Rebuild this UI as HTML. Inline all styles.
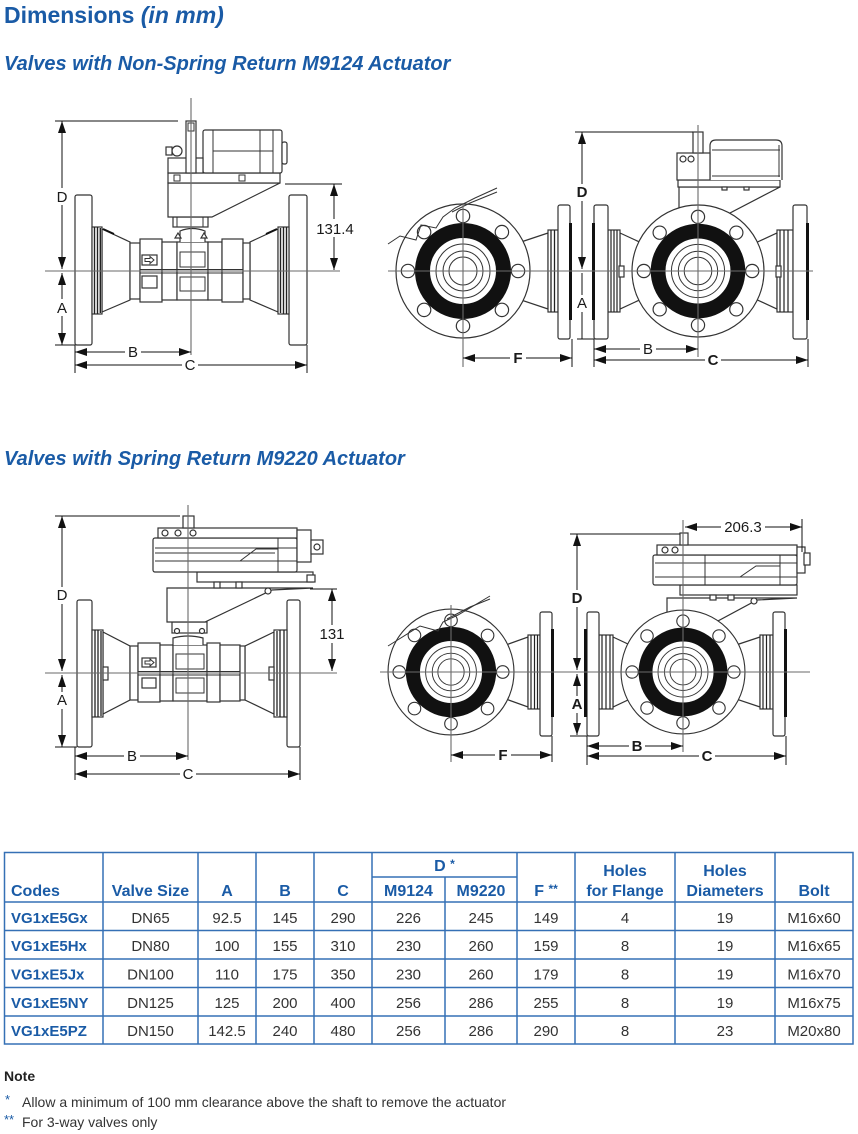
<!DOCTYPE html>
<html><head><meta charset="utf-8"><title>Dimensions</title>
<style>
html,body{margin:0;padding:0;background:#fff}
svg{display:block}
text{font-family:"Liberation Sans",Arial,sans-serif}
.o{stroke:#333;stroke-width:1.2;fill:#fff}
.ln{stroke:#333;stroke-width:1;fill:none}
.cl{stroke:#6a6a6a;stroke-width:1.1;fill:none}
.dm{stroke:#111;stroke-width:1;fill:none}
.bk{fill:#111;stroke:none}
.wb{fill:#fff;stroke:none}
.lb{font-size:15px;fill:#1a1a1a;text-anchor:middle}
.lbb{font-size:15px;fill:#1a1a1a;text-anchor:middle;font-weight:bold}
.th{font-size:16px;font-weight:bold;fill:#1a5ba6}
.thc{font-size:16px;font-weight:bold;fill:#1a5ba6;text-anchor:middle}
.td{font-size:15px;fill:#333;text-anchor:middle}
.tc{font-size:15px;font-weight:bold;fill:#1a5ba6}
</style></head><body>
<svg width="858" height="1134" viewBox="0 0 858 1134" xmlns="http://www.w3.org/2000/svg">
<defs>
<marker id="ar" viewBox="0 0 12 8" refX="12" refY="4" markerWidth="12" markerHeight="8" markerUnits="userSpaceOnUse" orient="auto-start-reverse"><path d="M0,0L12,4L0,8z" fill="#111"/></marker>
<g id="face">
 <circle r="67" class="o"/>
 <g class="o">
  <circle cx="55" cy="0" r="6.7"/>
  <circle cx="38.9" cy="-38.9" r="6.7"/>
  <circle cx="0" cy="-55" r="6.7"/>
  <circle cx="-38.9" cy="-38.9" r="6.7"/>
  <circle cx="-55" cy="0" r="6.7"/>
  <circle cx="-38.9" cy="38.9" r="6.7"/>
  <circle cx="0" cy="55" r="6.7"/>
  <circle cx="38.9" cy="38.9" r="6.7"/>
 </g>
 <circle r="40.5" fill="none" stroke="#111" stroke-width="15"/>
 <circle r="27" class="ln"/>
 <circle r="20" class="ln"/>
 <circle r="14" class="ln"/>
</g>
</defs>

<!-- Titles -->
<text x="4" y="23" font-size="23" font-weight="bold" fill="#1a5ba6">Dimensions <tspan font-style="italic">(in mm)</tspan></text>
<text x="4" y="70" font-size="20" font-weight="bold" font-style="italic" fill="#1a5ba6">Valves with Non-Spring Return M9124 Actuator</text>
<text x="4" y="465" font-size="20" font-weight="bold" font-style="italic" fill="#1a5ba6">Valves with Spring Return M9220 Actuator</text>

<!-- ================= TOP LEFT ================= -->
<g>
<rect x="75" y="195" width="17" height="150" rx="2" class="o"/>
<rect x="289" y="195" width="18" height="150" rx="2" class="o"/>
<polygon points="102,229 130,242 130,300 102,312" class="o"/>
<polygon points="278,229 250,242 250,300 278,312" class="o"/>
<path d="M103,229L114,234M277,229L266,234" stroke="#111" stroke-width="2"/>
<rect x="92" y="227" width="10" height="87" class="o"/>
<path d="M94.5,227v87M97.5,227v87M100.3,228v85" stroke="#222" stroke-width="1.4"/>
<rect x="278" y="227" width="11" height="87" class="o"/>
<path d="M280.5,228v85M283.5,227v87M286.5,227v87" stroke="#222" stroke-width="1.4"/>
<rect x="130" y="243" width="10" height="56" class="o"/>
<rect x="140" y="239" width="22" height="63" class="o"/>
<rect x="162" y="242" width="15" height="58" class="o"/>
<rect x="177" y="242" width="31" height="58" class="o"/>
<rect x="208" y="242" width="14" height="58" class="o"/>
<rect x="222" y="239" width="21" height="63" class="o"/>
<rect x="243" y="243" width="7" height="56" class="o"/>
<path d="M140,269.5H243M140,273H243" class="ln"/>
<rect x="180" y="252" width="25" height="15" class="ln"/>
<rect x="180" y="277" width="25" height="14" class="ln"/>
<rect x="142" y="255" width="15" height="10" class="o"/>
<path d="M145,258.5h5v-2l4,3.5l-4,3.5v-2h-5z" class="ln"/>
<rect x="142" y="276" width="15" height="12" class="o"/>
<path d="M180,242V231Q192,226 205,231V242" class="o"/>
<path d="M175,238l3,-5l3,5zM201,238l3,-5l3,5z" class="o"/>
<rect x="173" y="217" width="35" height="10" class="o"/>
<path d="M177,217v10M203,217v10" class="ln"/>
<polygon points="168,183 280,183 212,217 168,217" class="o"/>
<rect x="168" y="173" width="112" height="10" class="o"/>
<rect x="174" y="175" width="6" height="6" class="ln"/><rect x="239" y="175" width="6" height="6" class="ln"/>
<rect x="203" y="130" width="79" height="43" rx="2" class="o"/>
<path d="M213,130v43M260,130v43M273,130v43M213,151h60" class="ln"/>
<rect x="282" y="142" width="5" height="22" rx="2" class="o"/>
<rect x="168" y="158" width="35" height="15" class="o"/>
<circle cx="177" cy="151" r="5" class="o"/>
<rect x="166" y="147" width="6" height="8" class="o"/>
<rect x="186" y="121" width="10" height="52" class="o"/>
<rect x="188" y="123" width="6" height="8" class="ln"/>
</g>

<!-- ================= TOP RIGHT ================= -->
<g>
<polygon points="515,244 548,233 548,309 515,298" class="o"/>
<rect x="548" y="230" width="10" height="82" class="o"/>
<path d="M551,230v82M554.5,230v82" stroke="#222" stroke-width="1.3"/>
<rect x="558" y="205" width="12" height="134" rx="2" class="o"/>
<rect x="569" y="223" width="3" height="97" class="bk"/>
<use href="#face" transform="translate(463,271)"/>
<polyline points="388,244 400,236 416,240 421,225 436,228 443,217 455,208 475,198 497,188" class="ln"/>
<polyline points="452,212 470,203 497,192" class="ln"/>

<polygon points="620,233 646,245 646,297 620,309" class="o"/>
<rect x="608" y="230" width="12" height="82" class="o"/>
<path d="M611,230v82M614,230v82M617,230v82" stroke="#222" stroke-width="1.2"/>
<rect x="594" y="205" width="14" height="134" rx="2" class="o"/>
<rect x="592" y="223" width="3" height="97" class="bk"/>
<polygon points="751,245 777,233 777,309 751,297" class="o"/>
<rect x="777" y="230" width="16" height="82" class="o"/>
<path d="M780,230v82M784,230v82M788,230v82" stroke="#222" stroke-width="1.2"/>
<rect x="793" y="205" width="14" height="134" rx="2" class="o"/>
<rect x="806" y="223" width="3" height="97" class="bk"/>
<rect x="619" y="266" width="5" height="11" class="o"/>
<rect x="776" y="266" width="5" height="11" class="o"/>
<polygon points="679,187 780,187 728,214 679,214" class="o"/>
<use href="#face" transform="translate(698,271) scale(0.985)"/>
<rect x="678" y="180" width="102" height="7" class="o"/>
<rect x="722" y="187" width="5" height="3" class="o"/><rect x="744" y="187" width="5" height="3" class="o"/>
<path d="M710,180V146Q710,140 716,140H776Q782,140 782,146V180" class="o"/>
<path d="M712,150h68M712,176h68M779,145v32" class="ln"/>
<rect x="677" y="153" width="33" height="27" class="o"/>
<circle cx="683" cy="159" r="3" class="o"/><circle cx="691" cy="159" r="3" class="o"/>
<rect x="693" y="132" width="10" height="21" class="o"/>
</g>

<!-- ================= BOTTOM LEFT ================= -->
<g>
<rect x="77" y="600" width="15" height="147" rx="2" class="o"/>
<rect x="287" y="600" width="13" height="147" rx="2" class="o"/>
<polygon points="103,632 130,646 130,700 103,714" class="o"/>
<polygon points="274,632 245,646 245,700 274,714" class="o"/>
<rect x="92" y="630" width="11" height="87" class="o"/>
<path d="M95,630v87M98,630v87M101,631v85" stroke="#222" stroke-width="1.3"/>
<rect x="274" y="630" width="13" height="87" class="o"/>
<path d="M277,631v85M280,630v87M284,630v87" stroke="#222" stroke-width="1.3"/>
<rect x="103" y="667" width="5" height="13" class="o"/>
<rect x="269" y="667" width="5" height="13" class="o"/>
<rect x="130" y="646" width="8" height="54" class="o"/>
<rect x="138" y="643" width="22" height="59" class="o"/>
<rect x="160" y="645" width="13" height="56" class="o"/>
<rect x="173" y="645" width="34" height="56" class="o"/>
<rect x="207" y="643" width="13" height="59" class="o"/>
<rect x="220" y="645" width="20" height="56" class="o"/>
<rect x="240" y="646" width="5" height="54" class="o"/>
<path d="M138,671.5H240M138,675H240" class="ln"/>
<rect x="176" y="654" width="28" height="15" class="ln"/>
<rect x="176" y="678" width="28" height="15" class="ln"/>
<rect x="142" y="658" width="14" height="9" class="o"/>
<path d="M145,661h5v-2l4,3.5l-4,3.5v-2h-5z" class="ln"/>
<rect x="142" y="678" width="14" height="10" class="o"/>
<path d="M173,645V638Q188,634 203,638V645" class="o"/>
<rect x="172" y="622" width="35" height="11" class="o"/>
<circle cx="177" cy="631" r="2.5" class="o"/><circle cx="202" cy="631" r="2.5" class="o"/>
<polygon points="167,588 313,588 272,590 205,622 167,622" class="o"/>
<circle cx="268" cy="591" r="3" class="o"/>
<rect x="197" y="572" width="116" height="10" class="o"/>
<rect x="214" y="582" width="6" height="6" class="o"/><rect x="236" y="582" width="6" height="6" class="o"/>
<rect x="153" y="538" width="144" height="34" rx="2" class="o"/>
<path d="M155,548H297M155,561H297M278,538v34M155,553h120" class="ln"/>
<path d="M240,561L256,549H278" class="ln"/>
<rect x="158" y="528" width="139" height="10" class="o"/>
<circle cx="165" cy="533" r="3" class="o"/><circle cx="178" cy="533" r="3" class="o"/><circle cx="193" cy="533" r="3" class="o"/>
<rect x="297" y="530" width="14" height="32" class="o"/>
<rect x="311" y="540" width="12" height="14" class="o"/>
<circle cx="317" cy="547" r="3" class="o"/>
<rect x="307" y="575" width="8" height="7" class="o"/>
<rect x="183" y="516" width="11" height="12" class="o"/>
</g>

<!-- ================= BOTTOM RIGHT ================= -->
<g>
<polygon points="503,646 528,637 528,707 503,698" class="o"/>
<rect x="528" y="635" width="12" height="74" class="o"/>
<path d="M531,635v74M534.5,635v74M537.5,635v74" stroke="#222" stroke-width="1.2"/>
<rect x="540" y="612" width="12" height="124" rx="2" class="o"/>
<rect x="551" y="629" width="3" height="88" class="bk"/>
<use href="#face" transform="translate(451,672) scale(0.94)"/>
<polyline points="388,646 396,641 420,626 438,631 443,622 458,615 490,596" class="ln"/>
<polyline points="447,619 470,607 490,599" class="ln"/>

<polygon points="613,637 630,645 630,699 613,707" class="o"/>
<rect x="599" y="635" width="14" height="74" class="o"/>
<path d="M602,635v74M606,635v74M610,635v74" stroke="#222" stroke-width="1.2"/>
<rect x="587" y="612" width="12" height="124" rx="2" class="o"/>
<rect x="584" y="629" width="3" height="88" class="bk"/>
<polygon points="736,645 760,637 760,707 736,699" class="o"/>
<rect x="760" y="635" width="13" height="74" class="o"/>
<path d="M763,635v74M766.5,635v74M770,635v74" stroke="#222" stroke-width="1.2"/>
<rect x="773" y="612" width="12" height="124" rx="2" class="o"/>
<rect x="784" y="629" width="3" height="88" class="bk"/>
<polygon points="667,598 797,598 757,600 716,622 667,622" class="o"/>
<circle cx="754" cy="601" r="3" class="o"/>
<use href="#face" transform="translate(683,672) scale(0.925)"/>
<rect x="680" y="585" width="117" height="10" class="o"/>
<rect x="710" y="595" width="6" height="5" class="o"/><rect x="728" y="595" width="6" height="5" class="o"/>
<rect x="653" y="555" width="144" height="30" rx="2" class="o"/>
<path d="M655,563H797M655,577H797M780,555v30M705,555v30" class="ln"/>
<path d="M740,577L756,566H780" class="ln"/>
<rect x="657" y="545" width="140" height="10" class="o"/>
<circle cx="665" cy="550" r="3" class="o"/><circle cx="675" cy="550" r="3" class="o"/>
<rect x="797" y="547" width="8" height="26" class="o"/>
<rect x="804" y="553" width="6" height="12" class="o"/>
<rect x="680" y="533" width="8" height="12" class="o"/>
</g>

<!-- ================= CENTERLINES ================= -->
<g class="cl">
<path d="M45,271H340M191,98V355"/>
<path d="M388,271H813M463,203V367M698,125V357"/>
<path d="M45,673H337M188,505V760"/>
<path d="M380,672H810M451,605V762M683,520V752"/>
</g>

<!-- ================= DIMENSIONS ================= -->
<g class="dm">
<path d="M55,121H178M55,345H75M285,184H342M75,345V373M307,345V373"/>
<line x1="62" y1="121" x2="62" y2="269" marker-start="url(#ar)" marker-end="url(#ar)"/>
<line x1="62" y1="273" x2="62" y2="345" marker-start="url(#ar)" marker-end="url(#ar)"/>
<line x1="334" y1="184" x2="334" y2="270" marker-start="url(#ar)" marker-end="url(#ar)"/>
<line x1="75" y1="352" x2="191" y2="352" marker-start="url(#ar)" marker-end="url(#ar)"/>
<line x1="75" y1="365" x2="307" y2="365" marker-start="url(#ar)" marker-end="url(#ar)"/>
<path d="M575,132H693M577,339H594M572,339V367M594,339V367M808,339V367"/>
<line x1="582" y1="132" x2="582" y2="269" marker-start="url(#ar)" marker-end="url(#ar)"/>
<line x1="582" y1="273" x2="582" y2="339"/>
<line x1="463" y1="358" x2="572" y2="358" marker-start="url(#ar)" marker-end="url(#ar)"/>
<line x1="594" y1="349" x2="698" y2="349" marker-start="url(#ar)" marker-end="url(#ar)"/>
<line x1="594" y1="360" x2="808" y2="360" marker-start="url(#ar)" marker-end="url(#ar)"/>
<path d="M55,516H180M55,747H77M310,589H337M75,747V780M300,747V780"/>
<line x1="62" y1="516" x2="62" y2="671" marker-start="url(#ar)" marker-end="url(#ar)"/>
<line x1="62" y1="675" x2="62" y2="747" marker-start="url(#ar)" marker-end="url(#ar)"/>
<line x1="332" y1="589" x2="332" y2="671" marker-start="url(#ar)" marker-end="url(#ar)"/>
<line x1="75" y1="756" x2="188" y2="756" marker-start="url(#ar)" marker-end="url(#ar)"/>
<line x1="75" y1="774" x2="300" y2="774" marker-start="url(#ar)" marker-end="url(#ar)"/>
<path d="M570,534H680M570,736H587M802,519V552M552,736V762M587,736V765M786,736V765"/>
<line x1="685" y1="527" x2="802" y2="527" marker-start="url(#ar)" marker-end="url(#ar)"/>
<line x1="577" y1="534" x2="577" y2="670" marker-start="url(#ar)" marker-end="url(#ar)"/>
<line x1="577" y1="674" x2="577" y2="735" marker-start="url(#ar)" marker-end="url(#ar)"/>
<line x1="451" y1="755" x2="552" y2="755" marker-start="url(#ar)" marker-end="url(#ar)"/>
<line x1="587" y1="746" x2="683" y2="746" marker-start="url(#ar)" marker-end="url(#ar)"/>
<line x1="587" y1="756" x2="786" y2="756" marker-start="url(#ar)" marker-end="url(#ar)"/>
</g>

<g class="wb">
<rect x="55" y="188" width="14" height="17"/>
<rect x="55" y="299" width="14" height="17"/>
<rect x="125" y="345" width="16" height="15"/>
<rect x="182" y="358" width="16" height="15"/>
<rect x="315" y="219" width="40" height="18"/>
<rect x="575" y="184" width="14" height="17"/>
<rect x="575" y="295" width="14" height="17"/>
<rect x="510" y="351" width="16" height="15"/>
<rect x="640" y="342" width="16" height="15"/>
<rect x="705" y="353" width="16" height="15"/>
<rect x="55" y="587" width="14" height="17"/>
<rect x="55" y="692" width="14" height="17"/>
<rect x="318" y="625" width="28" height="18"/>
<rect x="124" y="749" width="16" height="15"/>
<rect x="180" y="767" width="16" height="15"/>
<rect x="721" y="518" width="44" height="18"/>
<rect x="570" y="590" width="14" height="17"/>
<rect x="570" y="696" width="14" height="17"/>
<rect x="495" y="748" width="16" height="15"/>
<rect x="629" y="740" width="16" height="11"/>
<rect x="699" y="749" width="16" height="14"/>
</g>

<text x="62" y="202" class="lb">D</text>
<text x="62" y="313" class="lb">A</text>
<text x="133" y="357" class="lb">B</text>
<text x="190" y="370" class="lb">C</text>
<text x="335" y="234" class="lb">131.4</text>
<text x="582" y="197" class="lbb">D</text>
<text x="582" y="308" class="lb">A</text>
<text x="518" y="363" class="lbb">F</text>
<text x="648" y="354" class="lb">B</text>
<text x="713" y="365" class="lbb">C</text>
<text x="62" y="600" class="lb">D</text>
<text x="62" y="705" class="lb">A</text>
<text x="132" y="761" class="lb">B</text>
<text x="188" y="779" class="lb">C</text>
<text x="332" y="639" class="lb">131</text>
<text x="743" y="532" class="lb">206.3</text>
<text x="577" y="603" class="lbb">D</text>
<text x="577" y="709" class="lbb">A</text>
<text x="503" y="760" class="lbb">F</text>
<text x="637" y="751" class="lbb">B</text>
<text x="707" y="761" class="lbb">C</text>

<!-- ================= TABLE ================= -->
<g stroke="#3570b5" stroke-width="1.5" fill="none">
<rect x="4.5" y="852.5" width="848.5" height="191.5"/>
<path d="M4,902H853M4,930.5H853M4,959H853M4,987.5H853M4,1016H853M372,877H517"/>
<path d="M103,852V1044M198,852V1044M256,852V1044M314,852V1044M372,852V1044M445,877V1044M517,852V1044M575,852V1044M675,852V1044M775,852V1044"/>
</g>
<text x="11" y="896" class="th">Codes</text>
<text x="150.5" y="896" class="thc">Valve Size</text>
<text x="227" y="896" class="thc">A</text>
<text x="285" y="896" class="thc">B</text>
<text x="343" y="896" class="thc">C</text>
<text x="444.5" y="871" class="thc">D <tspan font-size="12" dy="-3">*</tspan></text>
<text x="408.5" y="896" class="thc">M9124</text>
<text x="481" y="896" class="thc">M9220</text>
<text x="546" y="896" class="thc">F <tspan font-size="12" dy="-3">**</tspan></text>
<text x="625" y="876" class="thc">Holes</text>
<text x="625" y="896" class="thc">for Flange</text>
<text x="725" y="876" class="thc">Holes</text>
<text x="725" y="896" class="thc">Diameters</text>
<text x="814" y="896" class="thc">Bolt</text>

<g>
<text x="11" y="923" class="tc">VG1xE5Gx</text>
<text x="150.5" y="923" class="td">DN65</text><text x="227" y="923" class="td">92.5</text><text x="285" y="923" class="td">145</text><text x="343" y="923" class="td">290</text><text x="408.5" y="923" class="td">226</text><text x="481" y="923" class="td">245</text><text x="546" y="923" class="td">149</text><text x="625" y="923" class="td">4</text><text x="725" y="923" class="td">19</text><text x="814" y="923" class="td">M16x60</text>

<text x="11" y="951" class="tc">VG1xE5Hx</text>
<text x="150.5" y="951" class="td">DN80</text><text x="227" y="951" class="td">100</text><text x="285" y="951" class="td">155</text><text x="343" y="951" class="td">310</text><text x="408.5" y="951" class="td">230</text><text x="481" y="951" class="td">260</text><text x="546" y="951" class="td">159</text><text x="625" y="951" class="td">8</text><text x="725" y="951" class="td">19</text><text x="814" y="951" class="td">M16x65</text>

<text x="11" y="979.5" class="tc">VG1xE5Jx</text>
<text x="150.5" y="979.5" class="td">DN100</text><text x="227" y="979.5" class="td">110</text><text x="285" y="979.5" class="td">175</text><text x="343" y="979.5" class="td">350</text><text x="408.5" y="979.5" class="td">230</text><text x="481" y="979.5" class="td">260</text><text x="546" y="979.5" class="td">179</text><text x="625" y="979.5" class="td">8</text><text x="725" y="979.5" class="td">19</text><text x="814" y="979.5" class="td">M16x70</text>

<text x="11" y="1008" class="tc">VG1xE5NY</text>
<text x="150.5" y="1008" class="td">DN125</text><text x="227" y="1008" class="td">125</text><text x="285" y="1008" class="td">200</text><text x="343" y="1008" class="td">400</text><text x="408.5" y="1008" class="td">256</text><text x="481" y="1008" class="td">286</text><text x="546" y="1008" class="td">255</text><text x="625" y="1008" class="td">8</text><text x="725" y="1008" class="td">19</text><text x="814" y="1008" class="td">M16x75</text>

<text x="11" y="1036" class="tc">VG1xE5PZ</text>
<text x="150.5" y="1036" class="td">DN150</text><text x="227" y="1036" class="td">142.5</text><text x="285" y="1036" class="td">240</text><text x="343" y="1036" class="td">480</text><text x="408.5" y="1036" class="td">256</text><text x="481" y="1036" class="td">286</text><text x="546" y="1036" class="td">290</text><text x="625" y="1036" class="td">8</text><text x="725" y="1036" class="td">23</text><text x="814" y="1036" class="td">M20x80</text>
</g>

<text x="4" y="1081" font-size="14" font-weight="bold" fill="#222">Note</text>
<text x="5" y="1104" font-size="13" fill="#1a5ba6">*</text>
<text x="22" y="1107" font-size="14" fill="#333">Allow a minimum of 100 mm clearance above the shaft to remove the actuator</text>
<text x="4" y="1124" font-size="13" fill="#1a5ba6">**</text>
<text x="22" y="1127" font-size="14" fill="#333">For 3-way valves only</text>
</svg>
</body></html>
